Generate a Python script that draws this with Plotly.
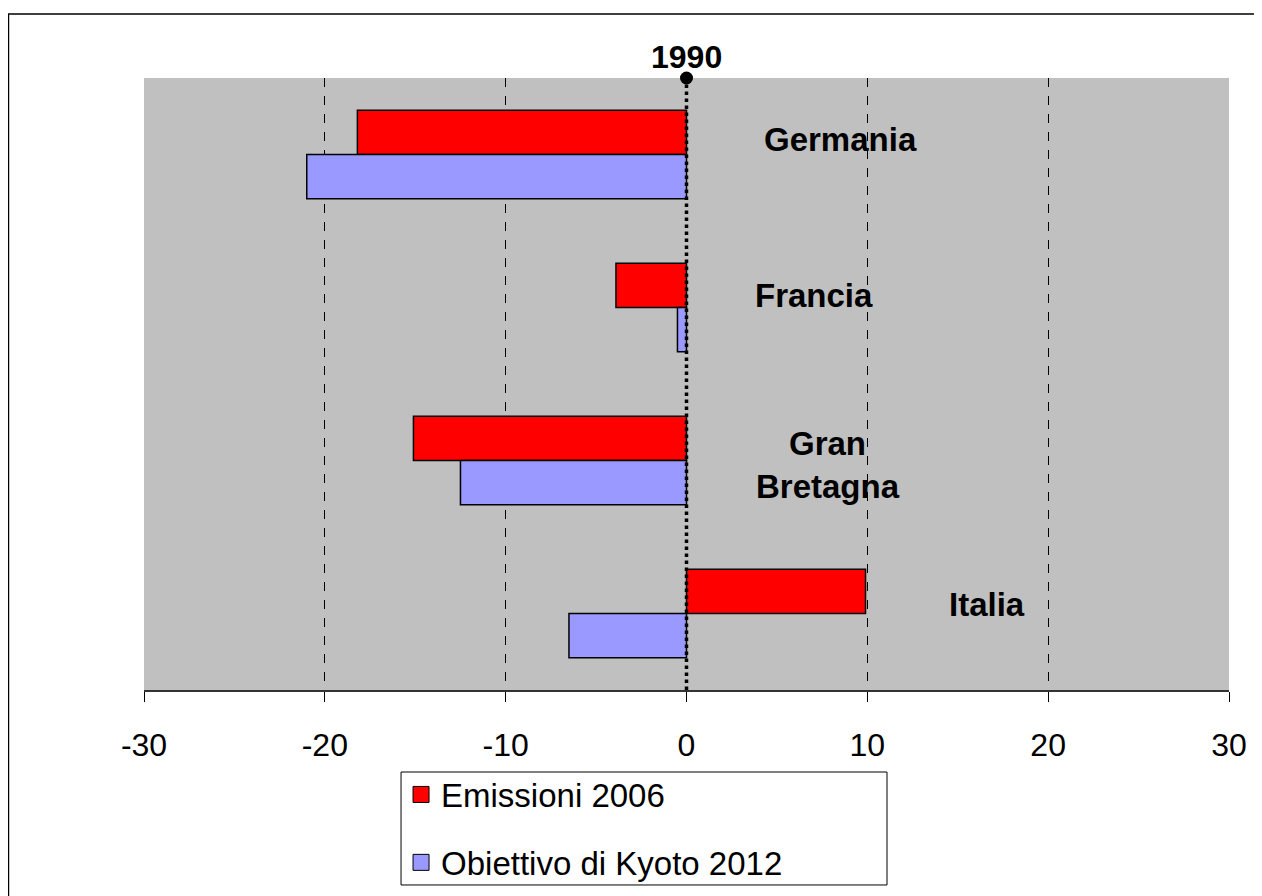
import plotly.graph_objects as go

countries = ["Germania", "Francia", "Gran Bretagna", "Italia"]
country_labels = ["Germania", "Francia", "Gran<br>Bretagna", "Italia"]
emissioni_2006 = [-18.2, -3.9, -15.1, 9.9]
kyoto_2012 = [-21.0, -0.5, -12.5, -6.5]
x_ticks = [-30, -20, -10, 0, 10, 20, 30]
grid_vals = [-20, -10, 10, 20]
ref_label = "1990"
series_names = ["Emissioni 2006", "Obiettivo di Kyoto 2012"]
series_colors = ["#FF0000", "#9999FF"]

FONT = "Arial, Liberation Sans, sans-serif"

fig = go.Figure()
for vals, name, col in zip([emissioni_2006, kyoto_2012], series_names, series_colors):
    fig.add_trace(go.Bar(
        y=countries, x=vals, orientation="h", name=name,
        marker=dict(color=col, line=dict(color="black", width=1.5)),
        showlegend=False,
    ))
# legend entries (square swatches)
for i, (name, col) in enumerate(zip(series_names, series_colors)):
    fig.add_trace(go.Scatter(
        x=[None], y=[None], xaxis="x2", yaxis="y2", mode="markers", name=name,
        marker=dict(symbol="square", size=16, color=col, line=dict(color="black", width=1)),
        legendgroup=f"g{i}", showlegend=True,
    ))
# 1990 reference line (dotted) with dot on top
fig.add_trace(go.Scatter(
    x=[0, 0], y=[0, 1], xaxis="x2", yaxis="y2", mode="lines",
    line=dict(color="black", width=3.5, dash="dot"),
    showlegend=False, hoverinfo="skip", cliponaxis=False,
))
fig.add_trace(go.Scatter(
    x=[0], y=[1], xaxis="x2", yaxis="y2", mode="markers",
    marker=dict(color="black", size=13),
    showlegend=False, hoverinfo="skip", cliponaxis=False,
))

label_x = [8.5, 7.05, 7.8, 16.6]
label_shift = [15, 12, -4, 9]
for c, lab, lx, ys in zip(countries, country_labels, label_x, label_shift):
    fig.add_annotation(x=lx, y=c, text=f"<b>{lab}</b>", showarrow=False,
                       font=dict(family=FONT, size=33, color="black"),
                       yshift=ys, align="center")

fig.add_annotation(x=0, y=1, xref="x", yref="paper", text=f"<b>{ref_label}</b>",
                   showarrow=False, yanchor="bottom", yshift=1,
                   font=dict(family=FONT, size=32, color="black"))

# outer frame
fig.add_shape(type="rect", xref="paper", yref="paper",
              x0=-0.1249, x1=1.0295, y0=-0.36, y1=1.1046,
              line=dict(color="black", width=1.5), layer="below")
# legend box
fig.add_shape(type="rect", xref="paper", yref="paper",
              x0=0.2369, x1=0.6848, y0=-0.3186, y1=-0.134,
              line=dict(color="black", width=1), fillcolor="white", layer="below")

fig.update_layout(
    width=1262, height=896,
    margin=dict(l=136, r=41, t=70, b=214),
    paper_bgcolor="white", plot_bgcolor="#C0C0C0",
    barmode="group", bargap=0.42, bargroupgap=0,
    font=dict(family=FONT, size=32, color="black"),
    xaxis=dict(range=[-30, 30], tickvals=x_ticks, ticktext=[str(v) for v in x_ticks],
               showgrid=False, zeroline=False, showline=True,
               linecolor="#333333", linewidth=1.5,
               ticks="outside", ticklen=10, tickcolor="black",
               ticklabelstandoff=16,
               tickfont=dict(size=32, family=FONT), fixedrange=True),
    xaxis2=dict(range=[-30, 30], overlaying="x", tickvals=grid_vals,
                showticklabels=False, ticks="", showgrid=True, gridcolor="black",
                gridwidth=1, griddash="dash", zeroline=False, showline=False),
    yaxis=dict(autorange="reversed", showticklabels=False, ticks="",
               showgrid=False, zeroline=False, showline=False),
    yaxis2=dict(range=[0, 1], overlaying="y", visible=False),
    showlegend=True,
    legend=dict(x=0.2369, y=-0.125, xanchor="left", yanchor="top",
                borderwidth=0, bgcolor="rgba(0,0,0,0)",
                traceorder="grouped", tracegroupgap=22,
                font=dict(size=33, family=FONT)),
)

fig.write_html("out.html")
